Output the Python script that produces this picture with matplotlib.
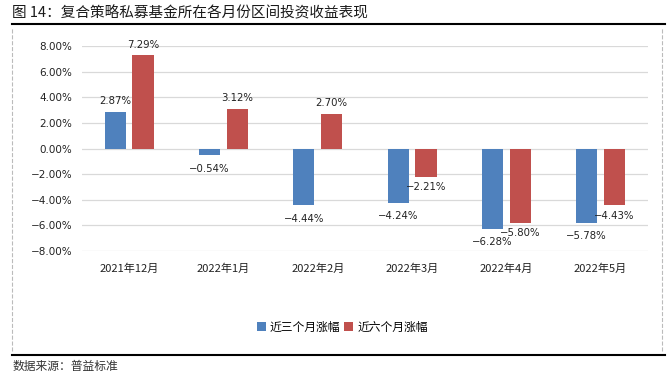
import matplotlib.pyplot as plt
import numpy as np
from matplotlib.lines import Line2D

plt.rcParams['font.family'] = ['Noto Sans CJK SC', 'DejaVu Sans']
plt.rcParams['axes.unicode_minus'] = False

months = ['2021年12月', '2022年1月', '2022年2月', '2022年3月', '2022年4月', '2022年5月']
ret_3m = [2.87, -0.54, -4.44, -4.24, -6.28, -5.78]
ret_6m = [7.29, 3.12, 2.70, -2.21, -5.80, -4.43]
series_names = ['近三个月涨幅', '近六个月涨幅']

blue = '#4F81BD'
red = '#C0504D'

fig = plt.figure(figsize=(6.72, 3.77), dpi=100)
ax = fig.add_axes([0.122, 0.334, 0.842, 0.544])

x = np.arange(len(months))
w = 0.225
gap = 0.035
b1 = ax.bar(x - w / 2 - gap, ret_3m, w, color=blue, label=series_names[0], zorder=3)
b2 = ax.bar(x + w / 2 + gap, ret_6m, w, color=red, label=series_names[1], zorder=3)

for bars, vals, dy in [(b1, ret_3m, -6), (b2, ret_6m, -4)]:
    for rect, v in zip(bars, vals):
        cx = rect.get_x() + rect.get_width() / 2
        txt = ('−' if v < 0 else '') + '%.2f%%' % abs(v)
        if v >= 0:
            ax.annotate(txt, (cx, v), xytext=(0, 4), textcoords='offset points',
                        ha='center', va='bottom', fontsize=7.3, color='#222222',
                        family='DejaVu Sans')
        else:
            ax.annotate(txt, (cx, v), xytext=(0, dy), textcoords='offset points',
                        ha='center', va='top', fontsize=7.3, color='#222222',
                        family='DejaVu Sans')

ax.set_xlim(-0.5, len(months) - 0.5)
ax.set_ylim(-8, 8)
yt = np.arange(-8, 8.1, 2)
ax.set_yticks(yt)
ax.set_yticklabels([('−' if t < 0 else '') + '%.2f%%' % abs(t) for t in yt],
                   fontsize=7.5, family='DejaVu Sans', color='#222222')
ax.set_xticks(x)
ax.set_xticklabels(months, fontsize=8, color='#222222')
ax.tick_params(length=0, pad=9)
ax.tick_params(axis='y', pad=7)
ax.grid(axis='y', color='#d9d9d9', linewidth=0.9, zorder=0)
for s in ax.spines.values():
    s.set_visible(False)

ax.legend(loc='center', bbox_to_anchor=(0.46, -0.37), ncol=2, frameon=False,
          fontsize=8.5, handlelength=0.8, handleheight=0.8, handletextpad=0.3,
          columnspacing=0.3)

fig.text(0.018, 0.965, '图 14：复合策略私募基金所在各月份区间投资收益表现',
         fontsize=10.5, color='#1a1a1a', va='center')
fig.text(0.018, 0.027, '数据来源：普益标准', fontsize=8.5, color='#333333', va='center')

fig.add_artist(Line2D([0.018, 0.99], [0.937, 0.937], color='black', lw=1.5))
fig.add_artist(Line2D([0.018, 0.99], [0.058, 0.058], color='black', lw=1.5))
fig.add_artist(Line2D([0.018, 0.018], [0.07, 0.925], color='#bbbbbb', lw=0.8, ls='--'))
fig.add_artist(Line2D([0.985, 0.985], [0.07, 0.925], color='#bbbbbb', lw=0.8, ls='--'))

fig.savefig('out.png', dpi=100)
